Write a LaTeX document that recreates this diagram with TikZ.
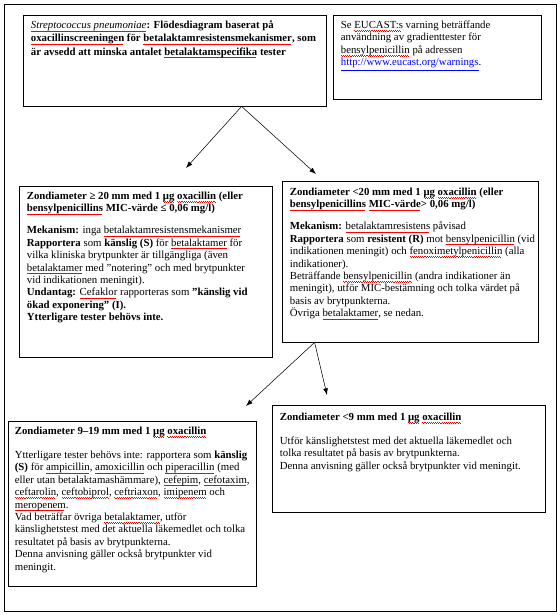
\documentclass[tikz,border=0pt]{standalone}
\usepackage{fontspec}
\setmainfont{Liberation Serif}
\usetikzlibrary{positioning}
\usetikzlibrary{calc}
\usetikzlibrary{fit}
\usetikzlibrary{arrows.meta}
\newsavebox\stavbox
\newcommand\stav[1]{\sbox\stavbox{#1}\rlap{\color{red}\hbox to\wd\stavbox{\leaders\hbox to 1.6pt{\vrule height -1.4pt depth 1.75pt width 0.8pt\vrule height -1.75pt depth 2.1pt width 0.8pt}\hfill}}\usebox\stavbox}
\newcommand\lnk[1]{\textcolor{blue}{\underline{#1}}}

\begin{document}
\begin{tikzpicture}[x=0.75pt,y=-0.75pt,>={Latex[length=5pt,width=3.6pt]}]
	\tikzset{box/.style = {shape=rectangle, draw, semithick, inner sep=0pt},
		txt/.style = {anchor=north west, align=left, inner sep=0pt, font=\fontsize{8.1}{9.35}\selectfont},
		link/.style = {->, thin}}
	\useasboundingbox (0,0) rectangle (560,615);
	\node[box, fit={(4,4) (556,611)}] (PAGE) {};
	
	% boxes
	\node[box, fit={(23,15) (326,106)}] (SCREEN) {};
	\node[box, fit={(333,15) (541,99)}] (WARN) {};
	\node[box, fit={(19,186) (272,357)}] (SUSC) {};
	\node[box, fit={(282,181) (538,342)}] (RES) {};
	\node[box, fit={(8,421) (256,586)}] (INTER) {};
	\node[box, fit={(272,405) (545,512)}] (LOW) {};
	
	% texts
	\node[txt, font=\fontsize{8.1}{9.9}\selectfont] (SCREENtxt) at ($(SCREEN.north west)+(8,6)$)
	{\textit{\stav{Streptococcus pneumoniae}}\textbf{: Flödesdiagram baserat på}\\
		\textbf{\stav{oxacillinscreeningen} för \stav{betalaktamresistensmekanismer}, som}\\
		\textbf{är avsedd att minska antalet \stav{betalaktamspecifika} tester}};
	\node[txt] (WARNtxt) at ($(WARN.north west)+(8,6)$)
	{Se \stav{EUCAST:s} varning beträffande\\
		användning av gradienttester för\\
		\stav{bensylpenicillin} på adressen\\
		\lnk{http://www.eucast.org/warnings}.};
	\node[txt] (SUSCtxt) at ($(SUSC.north west)+(8,6)$)
	{\textbf{Zondiameter ≥ 20 mm med 1 \stav{μg} \stav{oxacillin} (eller}\\
		\textbf{\stav{bensylpenicillins} MIC-värde ≤ 0,06 mg/l)}\\[7pt]
		\textbf{Mekanism:} inga \stav{betalaktamresistensmekanismer}\\
		\textbf{Rapportera} som \textbf{känslig (S)} för \stav{betalaktamer} för\\
		vilka kliniska brytpunkter är tillgängliga (även\\
		\stav{betalaktamer} med "notering" och med brytpunkter\\
		vid indikationen meningit).\\
		\textbf{Undantag:} \stav{Cefaklor} rapporteras som \textbf{"känslig vid}\\
		\textbf{ökad exponering" (I).}\\
		\textbf{Ytterligare tester behövs inte.}};
	\node[txt] (REStxt) at ($(RES.north west)+(8,7)$)
	{\textbf{Zondiameter <20 mm med 1 \stav{μg} \stav{oxacillin} (eller}\\
		\textbf{\stav{bensylpenicillins} \stav{MIC-värde}> 0,06 mg/l)}\\[7pt]
		\textbf{Mekanism:} \stav{betalaktamresistens} påvisad\\
		\textbf{Rapportera} som \textbf{resistent (R)} mot \stav{bensylpenicillin} (vid\\
		indikationen meningit) och \stav{fenoximetylpenicillin} (alla\\
		indikationer).\\
		Beträffande \stav{bensylpenicillin} (andra indikationer än\\
		meningit), utför MIC-bestämning och tolka värdet på\\
		basis av brytpunkterna.\\
		Övriga \stav{betalaktamer}, se nedan.};
	\node[txt] (INTERtxt) at ($(INTER.north west)+(7,6)$)
	{\textbf{Zondiameter 9–19 mm med 1 \stav{μg} \stav{oxacillin}}\\[8.5pt]
		Ytterligare tester behövs inte: rapportera som \textbf{känslig}\\
		\textbf{(S)} för \stav{ampicillin}, \stav{amoxicillin} och \stav{piperacillin} (med\\
		eller utan betalaktamashämmare), \stav{cefepim}, \stav{cefotaxim},\\
		\stav{ceftarolin}, \stav{ceftobiprol}, \stav{ceftriaxon}, \stav{imipenem} och\\
		\stav{meropenem}.\\
		Vad beträffar övriga \stav{betalaktamer}, utför\\
		känslighetstest med det aktuella läkemedlet och tolka\\
		resultatet på basis av brytpunkterna.\\
		Denna anvisning gäller också brytpunkter vid\\
		meningit.};
	\node[txt] (LOWtxt) at ($(LOW.north west)+(8,8)$)
	{\textbf{Zondiameter <9 mm med 1 \stav{μg} \stav{oxacillin}}\\[8.5pt]
		Utför känslighetstest med det aktuella läkemedlet och\\
		tolka resultatet på basis av brytpunkterna.\\
		Denna anvisning gäller också brytpunkter vid meningit.};
	
	% arrows
	\coordinate (fork1) at ($(SCREEN.south west)+(219,0)$);
	\coordinate (tipS) at (186,168);
	\coordinate (tipR) at (316,174);
	\draw[link] (fork1) -- (tipS);
	\draw[link] (fork1) -- (tipR);
	\coordinate (fork2) at ($(RES.south west)+(33,0)$);
	\coordinate (tipI) at (246,406);
	\coordinate (tipL) at (327,395);
	\draw[link] (fork2) -- (tipI);
	\draw[link] (fork2) -- (tipL);
\end{tikzpicture}
\end{document}
